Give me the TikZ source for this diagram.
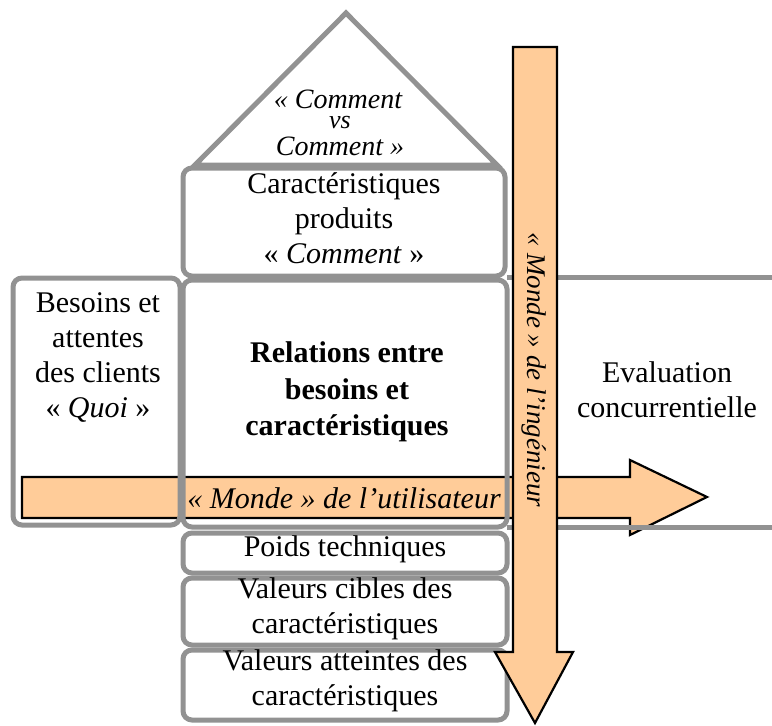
\documentclass[tikz,border=0pt]{standalone}
\usepackage{fontspec}
\setmainfont{Liberation Serif}
\definecolor{boxgray}{HTML}{929292}
\definecolor{peach}{HTML}{FFCC99}
\begin{document}
\begin{tikzpicture}[x=1pt,y=-1pt,
  box/.style={draw=boxgray,line width=5pt,rounded corners=9pt,inner sep=0pt},
  arrowshape/.style={draw=black,line width=2.2pt,fill=peach,line join=miter},
  txt/.style={align=center,font=\fontsize{30}{35}\selectfont,inner sep=0pt}]
\useasboundingbox (0,0) rectangle (772,726);
% horizontal arrow (bottom layer)
\draw[arrowshape] (22,477) -- (630,477) -- (630,460) -- (707,497) -- (630,535) -- (630,518) -- (22,518) -- cycle;
% roof
\draw[boxgray,line width=5pt,line join=miter] (195,165) -- (346,13) -- (497,165) -- cycle;
% boxes
\node[box,minimum width=322pt,minimum height=108pt] (prod) at (344,222) {};
\node[box,minimum width=324pt,minimum height=247pt] (rel) at (345,403.5) {};
\node[box,minimum width=167pt,minimum height=247pt] (quoi) at (96.5,401.5) {};
\node[box,minimum width=324pt,minimum height=40pt] (poids) at (345,553) {};
\node[box,minimum width=324pt,minimum height=67pt] (cible) at (345,611.5) {};
\node[box,minimum width=324pt,minimum height=70pt] (att) at (345,685) {};
% evaluation region (open to the right)
\coordinate (evtl) at (772,277);
\coordinate (evbl) at (772,527);
\draw[boxgray,line width=5pt] (507,277) -- (evtl);
\draw[boxgray,line width=5pt] (507,527) -- (evbl);
% vertical arrow (top layer)
\draw[arrowshape] (513,47) -- (557,47) -- (557,652) -- (573,652) -- (535,723) -- (495,652) -- (513,652) -- cycle;
% texts
\node[txt,font=\fontsize{28}{30}\itshape] (troof1) at (338,99) {« Comment};
\node[txt,font=\fontsize{26}{30}\itshape] (troof2) at (340,122) {vs};
\node[txt,font=\fontsize{28}{30}\itshape] (troof3) at (340,146) {Comment »};
\node[txt] (tprod) at (344,218) {Caractéristiques\\ produits\\ « \textit{Comment} »};
\node[txt] (tquoi) at (98,357) {Besoins et\\ attentes\\ des clients\\ « \textit{Quoi} »};
\node[txt,font=\fontsize{30}{36.5}\bfseries] (trel) at (347,392) {Relations entre\\ besoins et\\ caractéristiques};
\node[txt] (teval) at (667,390) {Evaluation\\ concurrentielle};
\node[txt] (tpoids) at (345,549) {Poids techniques};
\node[txt] (tcible) at (345,609) {Valeurs cibles des\\ caractéristiques};
\node[txt] (tatt) at (345,681) {Valeurs atteintes des\\ caractéristiques};
\node[txt,font=\fontsize{30}{35}\itshape] (tuser) at (344,498) {« Monde » de l’utilisateur};
\node[txt,font=\fontsize{27}{35}\itshape,rotate=-90] (teng) at (534,370) {« Monde » de l’ingénieur};
\end{tikzpicture}
\end{document}
